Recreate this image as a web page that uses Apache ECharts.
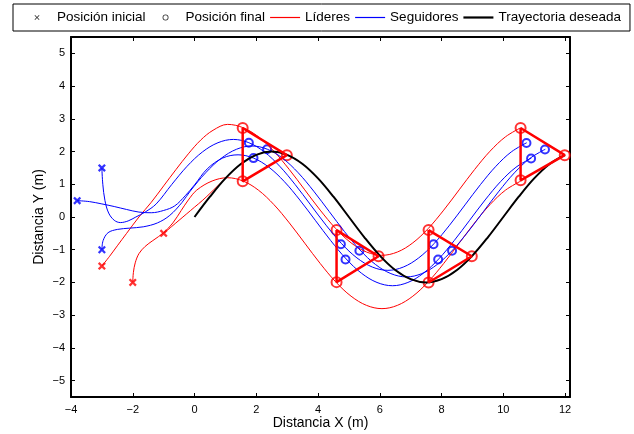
<!DOCTYPE html>
<html>
<head>
<meta charset="utf-8">
<title>Trayectorias</title>
<script src="https://cdn.jsdelivr.net/npm/echarts@6/dist/echarts.min.js"></script>
<style>
  html, body { margin: 0; padding: 0; background: #fff; }
  #chart { width: 634px; height: 434px; }
</style>
</head>
<body>
<div id="chart"></div>
<script>
// tick labels
const xTicks = [-4, -2, 0, 2, 4, 6, 8, 10, 12];
const yTicks = [-5, -4, -3, -2, -1, 0, 1, 2, 3, 4, 5];

// desired trajectory
const desiredPath = [[0, 0], [0.5, 0.62], [1, 1.18], [1.5, 1.62], [2, 1.9], [2.5, 2], [3, 1.9],
  [3.5, 1.62], [4, 1.18], [4.5, 0.62], [5, 0], [5.5, -0.62], [6, -1.18], [6.5, -1.62], [7, -1.9],
  [7.5, -2], [8, -1.9], [8.5, -1.62], [9, -1.18], [9.5, -0.62], [10, 0], [10.5, 0.62], [11, 1.18],
  [11.5, 1.62], [12, 1.9]];

// leaders
const leaderTop = [[-3, -1.5], [-2.75, -1.2], [-2.5, -0.88], [-2.2, -0.5], [-1.8, 0], [-1.4, 0.45],
  [-1, 0.95], [-0.6, 1.45], [-0.2, 1.93], [0.2, 2.35], [0.6, 2.65], [1.07, 2.83], [1.57, 2.73],
  [2.07, 2.45], [2.57, 2.01], [3.07, 1.45], [3.57, 0.83], [4.07, 0.21], [4.57, -0.35], [5.07, -0.79],
  [5.57, -1.07], [6.07, -1.17], [6.57, -1.07], [7.07, -0.79], [7.57, -0.35], [8.07, 0.21], [8.57, 0.83],
  [9.07, 1.45], [9.57, 2.01], [10.07, 2.45], [10.57, 2.73]];
const leaderBottom = [[-2, -2], [-1.98, -1.7], [-1.92, -1.4], [-1.8, -1.12], [-1.6, -0.9], [-1.35, -0.72],
  [-1, -0.48], [-0.7, -0.18], [-0.43, 0.2], [-0.2, 0.52], [0.07, 0.82], [0.57, 1.1], [1.07, 1.2],
  [1.57, 1.1], [2.07, 0.82], [2.57, 0.38], [3.07, -0.18], [3.57, -0.8], [4.07, -1.42], [4.57, -1.98],
  [5.07, -2.42], [5.57, -2.7], [6.07, -2.8], [6.57, -2.7], [7.07, -2.42], [7.57, -1.98], [8.07, -1.42],
  [8.57, -0.8], [9.07, -0.18], [9.57, 0.38], [10.07, 0.82], [10.57, 1.1]];
const leaderRight = [[-1, -0.5], [-0.75, -0.3], [-0.5, -0.1], [-0.25, 0.1], [0, 0.3], [0.25, 0.5],
  [0.5, 0.72], [0.75, 0.95], [1, 1.17], [1.5, 1.62], [2, 1.9], [2.5, 2], [3, 1.9], [3.5, 1.62],
  [4, 1.18], [4.5, 0.62], [5, 0], [5.5, -0.62], [6, -1.18], [6.5, -1.62], [7, -1.9], [7.5, -2],
  [8, -1.9], [8.5, -1.62], [9, -1.18], [9.5, -0.62], [10, 0], [10.5, 0.62], [11, 1.18], [11.5, 1.62],
  [12, 1.9]];

// followers
const followerA = [[-3, 1.5], [-2.97, 1], [-2.9, 0.5], [-2.78, 0.12], [-2.6, -0.1], [-2.4, -0.17],
  [-2.15, -0.12], [-1.9, 0], [-1.6, 0.15], [-1.24, 0.4], [-0.74, 0.99], [-0.24, 1.55], [0.26, 1.99],
  [0.76, 2.27], [1.26, 2.37], [1.76, 2.27], [2.26, 1.99], [2.76, 1.55], [3.26, 0.99],
  [3.76, 0.37], [4.26, -0.25], [4.76, -0.81], [5.26, -1.25], [5.76, -1.53], [6.26, -1.63], [6.76, -1.53],
  [7.26, -1.25], [7.76, -0.81], [8.26, -0.25], [8.76, 0.37], [9.26, 0.99], [9.76, 1.55], [10.26, 1.99],
  [10.76, 2.27]];
const followerB = [[-3.8, 0.5], [-3.4, 0.47], [-3, 0.4], [-2.6, 0.32], [-2.2, 0.23], [-1.8, 0.15],
  [-1.4, 0.13], [-1, 0.2], [-0.64, 0.34], [-0.3, 0.65], [0, 0.98], [0.41, 1.47], [0.91, 1.8], [1.41, 1.9],
  [1.91, 1.8], [2.41, 1.52], [2.91, 1.08], [3.41, 0.52], [3.91, -0.1], [4.41, -0.72], [4.91, -1.28],
  [5.41, -1.72], [5.91, -2], [6.41, -2.1], [6.91, -2], [7.41, -1.72], [7.91, -1.28], [8.41, -0.72],
  [8.91, -0.1], [9.41, 0.52], [9.91, 1.08], [10.41, 1.52], [10.91, 1.8]];
const followerC = [[-3, -1], [-2.96, -0.72], [-2.8, -0.48], [-2.5, -0.38], [-2.1, -0.34], [-1.66, -0.3],
  [-1.2, -0.18], [-0.8, 0.05], [-0.4, 0.45], [-0.14, 0.79], [0.36, 1.35], [0.86, 1.79], [1.36, 2.07],
  [1.86, 2.17], [2.36, 2.07], [2.86, 1.79], [3.36, 1.35], [3.86, 0.79], [4.36, 0.17], [4.86, -0.45],
  [5.36, -1.01], [5.86, -1.45], [6.36, -1.73], [6.86, -1.83], [7.36, -1.73], [7.86, -1.45], [8.36, -1.01],
  [8.86, -0.45], [9.36, 0.17], [9.86, 0.79], [10.36, 1.35], [10.86, 1.79], [11.36, 2.07]];

// formation snapshots
const triangles = [
  [[1.56, 2.72], [1.56, 1.09], [2.99, 1.89]],
  [[4.6, -0.4], [4.6, -1.99], [5.96, -1.2]],
  [[7.58, -0.4], [7.58, -2], [8.98, -1.2]],
  [[10.56, 2.72], [10.56, 1.12], [11.99, 1.89]]
];
const followerSnaps = [
  [[1.76, 2.27], [2.35, 2.07], [1.91, 1.8]],
  [[4.74, -0.83], [5.34, -1.03], [4.89, -1.3]],
  [[7.74, -0.83], [8.34, -1.03], [7.89, -1.3]],
  [[10.75, 2.26], [11.35, 2.06], [10.9, 1.79]]
];

// starting points
const leaderStarts = [[-3, -1.5], [-2, -2], [-1, -0.5]];
const followerStarts = [[-3, 1.5], [-3.8, 0.5], [-3, -1]];

const RED = '#ff0000';
const BLUE = '#0000ff';
const FONT = 'Liberation Sans, Arial, Helvetica, sans-serif';
const crossIcon = 'path://M0,2L2,0L5,3L8,0L10,2L7,5L10,8L8,10L5,7L2,10L0,8L3,5Z';
// legend icons share a 30x7 frame so every entry lines up the same way
const frame = 'M0,0L0,0M30,7L30,7';
const legendCross = 'path://' + frame +
  'M12.5,1.6L13.1,1L15,2.9L16.9,1L17.5,1.6L15.6,3.5L17.5,5.4L16.9,6L15,4.1L13.1,6L12.5,5.4L14.4,3.5Z';
const legendRing = 'path://' + frame +
  'M15,0.5A3,3 0 1,1 15,6.5A3,3 0 1,1 15,0.5ZM15,1.3A2.2,2.2 0 1,0 15,5.7A2.2,2.2 0 1,0 15,1.3Z';
const legendThin = 'path://' + frame + 'M0,2.9H30V4.1H0Z';
const legendThick = 'path://' + frame + 'M0,2.4H30V4.6H0Z';

const minus = v => String(v).replace('-', '\u2212');

function curve(name, data, color, width) {
  return {
    name: name,
    type: 'line',
    data: data,
    symbol: 'none',
    smooth: 0.35,
    lineStyle: { color: color, width: width },
    itemStyle: { color: color },
    silent: true,
    animation: false
  };
}

const chart = echarts.init(document.getElementById('chart'));

const series = [];
[leaderTop, leaderBottom, leaderRight].forEach(d => series.push(curve('Líderes', d, RED, 1)));
[followerA, followerB, followerC].forEach(d => series.push(curve('Seguidores', d, BLUE, 1)));
series.push(curve('Trayectoria deseada', desiredPath, '#000', 2));
triangles.forEach(t => {
  series.push({
    name: 'Formación',
    type: 'line',
    data: t.concat([t[0]]),
    symbol: 'none',
    lineStyle: { color: RED, width: 2.5 },
    silent: true,
    animation: false
  });
});
const finals = [];
triangles.forEach(t => t.forEach(p => finals.push({ value: p, symbolSize: 10, itemStyle: { color: RED } })));
followerSnaps.forEach(t => t.forEach(p => finals.push({ value: p, itemStyle: { color: BLUE } })));
series.push({
  name: 'Posición final',
  type: 'scatter',
  symbol: 'emptyCircle',
  symbolSize: 8,
  itemStyle: { color: '#000', borderWidth: 2 },
  data: finals,
  animation: false
});
series.push({
  name: 'Posición inicial',
  type: 'scatter',
  symbol: crossIcon,
  symbolSize: 8,
  itemStyle: { color: '#000' },
  data: leaderStarts.map(p => ({ value: p, itemStyle: { color: RED } }))
    .concat(followerStarts.map(p => ({ value: p, itemStyle: { color: BLUE } }))),
  animation: false
});

function axisBase(extra) {
  return Object.assign({
    type: 'value',
    axisLine: { show: true, onZero: false, lineStyle: { color: '#000', width: 2 } },
    splitLine: { show: false }
  }, extra);
}
function ticks(values) {
  return { show: true, inside: true, length: 4, customValues: values, lineStyle: { color: '#000', width: 1 } };
}

chart.setOption({
  animation: false,
  backgroundColor: '#fff',
  textStyle: { fontFamily: FONT },
  legend: {
    left: 13,
    top: 4,
    padding: [6, 9, 6, 9],
    itemGap: 5,
    itemWidth: 30,
    itemHeight: 7,
    borderColor: '#000',
    borderWidth: 1,
    textStyle: { color: '#000', fontSize: 13.5, fontFamily: FONT, lineHeight: 15 },
    data: [
      { name: 'Posición inicial', icon: legendCross, itemStyle: { color: '#000', borderColor: '#000', borderWidth: 0 } },
      { name: 'Posición final', icon: legendRing, itemStyle: { color: '#000', borderColor: '#000', borderWidth: 0 } },
      { name: 'Líderes', icon: legendThin, itemStyle: { color: RED, borderColor: RED, borderWidth: 0 } },
      { name: 'Seguidores', icon: legendThin, itemStyle: { color: BLUE, borderColor: BLUE, borderWidth: 0 } },
      { name: 'Trayectoria deseada', icon: legendThick, itemStyle: { color: '#000', borderColor: '#000', borderWidth: 0 } }
    ],
    selectedMode: false
  },
  grid: { left: 71, right: 64, top: 37, bottom: 37, outerBoundsMode: 'none' },
  xAxis: [
    axisBase({
      min: -4, max: 12.16,
      name: 'Distancia X (m)', nameLocation: 'middle', nameGap: 19, nameMoveOverlap: false,
      nameTextStyle: { color: '#000', fontSize: 14, fontFamily: FONT },
      axisTick: ticks(xTicks),
      axisLabel: { color: '#000', fontFamily: FONT, fontSize: 11, margin: 7, customValues: xTicks, formatter: minus }
    }),
    axisBase({
      min: -4, max: 12.16, position: 'top',
      axisTick: ticks(xTicks),
      axisLabel: { show: false }
    })
  ],
  yAxis: [
    axisBase({
      min: -5.5, max: 5.5,
      name: 'Distancia Y (m)', nameLocation: 'middle', nameGap: 25, nameRotate: 90, nameMoveOverlap: false,
      nameTextStyle: { color: '#000', fontSize: 14, fontFamily: FONT },
      axisTick: ticks(yTicks),
      axisLabel: { color: '#000', fontFamily: FONT, fontSize: 11, margin: 6, customValues: yTicks, formatter: minus }
    }),
    axisBase({
      min: -5.5, max: 5.5, position: 'right',
      axisTick: ticks(yTicks),
      axisLabel: { show: false }
    })
  ],
  series: series
});
</script>
</body>
</html>
